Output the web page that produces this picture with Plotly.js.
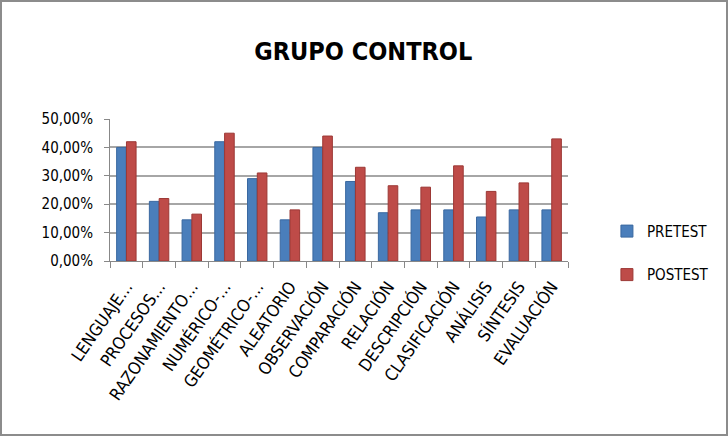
<!DOCTYPE html>
<html><head><meta charset="utf-8">
<script src="https://cdn.plot.ly/plotly-3.0.1.min.js"></script>
<style>html,body{margin:0;padding:0;background:#fff}#c{width:728px;height:436px;box-sizing:border-box;border:2px solid #8c8c8c}</style>
</head><body><div id="c"></div>
<script>
const categories = ["LENGUAJE…","PROCESOS…","RAZONAMIENTO…","NUMÉRICO-…","GEOMÉTRICO-…","ALEATORIO","OBSERVACIÓN","COMPARACIÓN","RELACIÓN","DESCRIPCIÓN","CLASIFICACIÓN","ANÁLISIS","SÍNTESIS","EVALUACIÓN"];
const pretest = [0.40, 0.21, 0.145, 0.42, 0.29, 0.145, 0.40, 0.28, 0.17, 0.18, 0.18, 0.155, 0.18, 0.18];
const postest = [0.42, 0.22, 0.165, 0.45, 0.31, 0.18, 0.44, 0.33, 0.265, 0.26, 0.335, 0.245, 0.275, 0.43];
const yTicks = [0, 0.1, 0.2, 0.3, 0.4, 0.5];
const font = "DejaVu Sans Condensed, sans-serif";
const traces = [
  {type:"bar", name:"PRETEST", x:categories, y:pretest, marker:{color:"#4a7ebb", line:{color:"#3a68a0", width:1}}, legendgroup:"a"},
  {type:"bar", name:"POSTEST", x:categories, y:postest, marker:{color:"#be4b48", line:{color:"#9c3835", width:1}}, legendgroup:"b"}
];
const layout = {
  width:724, height:432,
  margin:{l:108, r:148, t:117, b:173},
  separators:",.",
  title:{text:"<b>GRUPO CONTROL</b>", font:{family:font, size:25, color:"#000"}, x:0.499, xanchor:"center", y:0.885, yanchor:"middle"},
  barmode:"group", bargap:0.4, bargroupgap:0.02,
  showlegend:true,
  legend:{x:1.085, y:0.325, xanchor:"left", yanchor:"top", font:{family:font, size:15, color:"#000"}, tracegroupgap:21, traceorder:"grouped", itemwidth:30},
  xaxis:{tickangle:-55, tickfont:{family:font, size:17, color:"#000"}, showline:true, linecolor:"#888", linewidth:1, ticks:"outside", tickson:"boundaries", ticklen:6, tickcolor:"#888", ticklabelstandoff:8},
  yaxis:{range:[0,0.5], tickvals:yTicks, tickformat:".2%", tickfont:{family:font, size:15, color:"#000"}, showline:true, linecolor:"#888", linewidth:1, ticks:"outside", ticklen:5, tickcolor:"#888", ticklabelstandoff:8, gridcolor:"#a6a6a6", gridwidth:1.5, zeroline:false},
  plot_bgcolor:"#fff", paper_bgcolor:"#fff"
};
Plotly.newPlot("c", traces, layout, {displayModeBar:false});
</script></body></html>
